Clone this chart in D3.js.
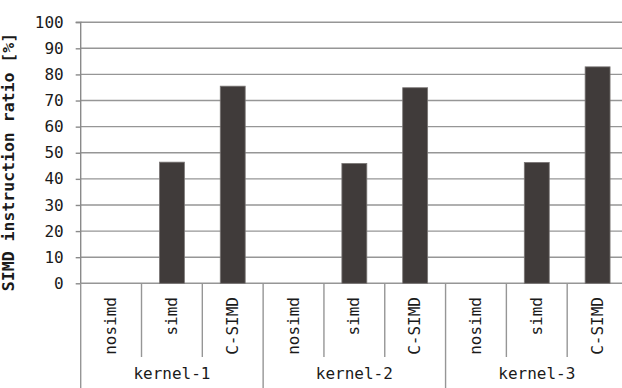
<!DOCTYPE html>
<html><head><meta charset="utf-8">
<script src="https://cdn.jsdelivr.net/npm/d3@7"></script>
<style>
html,body{margin:0;padding:0;background:#fff;}
svg{display:block;}
text{font-family:"DejaVu Sans Mono","Liberation Mono",monospace;fill:#1a1a1a;}
</style></head>
<body>
<svg id="chart" width="622" height="388"></svg>
<script>
const groups = ["kernel-1", "kernel-2", "kernel-3"];
const variants = ["nosimd", "simd", "C-SIMD"];
const values = [
  [0, 46.4, 75.5],
  [0, 45.9, 74.9],
  [0, 46.3, 82.9]
];
const yTicks = [0, 10, 20, 30, 40, 50, 60, 70, 80, 90, 100];
const yLabel = "SIMD instruction ratio [%]";

const svg = d3.select("#chart");
const mLeft = 80.7, mRight = 628, mTop = 22.2, mBottom = 283.3;

const keys = [];
groups.forEach(g => variants.forEach(v => keys.push(g + "|" + v)));
const data = [];
groups.forEach((g, gi) => variants.forEach((v, vi) => data.push({g, v, key: g + "|" + v, value: values[gi][vi]})));

const x = d3.scaleBand().domain(keys).range([mLeft, mRight]).padding(0);
const y = d3.scaleLinear().domain([0, 100]).range([mBottom, mTop]);
const bw = x.bandwidth();
const barW = bw * 0.41;

// gridlines
svg.append("g").selectAll("line").data(yTicks).join("line")
  .attr("x1", mLeft).attr("x2", mRight)
  .attr("y1", d => y(d)).attr("y2", d => y(d))
  .attr("stroke", "#969696").attr("stroke-width", 1.4);

// bars
svg.append("g").selectAll("rect").data(data.filter(d => d.value > 0)).join("rect")
  .attr("x", d => x(d.key) + (bw - barW) / 2)
  .attr("width", barW)
  .attr("y", d => y(d.value))
  .attr("height", d => y(0) - y(d.value))
  .attr("fill", "#403b3a")
  .attr("stroke", "#7a7675").attr("stroke-width", 0.8);

// y axis
const yAxis = d3.axisLeft(y).tickValues(yTicks).tickSize(5).tickPadding(12).tickFormat(d3.format("d"));
const ya = svg.append("g").attr("transform", `translate(${mLeft},0)`).call(yAxis);
ya.select(".domain").attr("stroke", "#8a8a8a").attr("stroke-width", 1.4).attr("d", `M-5,${mTop}H0V${mBottom}`);
ya.selectAll(".tick line").attr("stroke", "#8a8a8a").attr("stroke-width", 1.4);
ya.selectAll(".tick text").attr("font-size", 16).attr("fill", "#1a1a1a")
  .style("font-family", '"DejaVu Sans Mono",monospace');

// y label
svg.append("text")
  .attr("transform", `translate(8,162) rotate(-90)`)
  .attr("text-anchor", "middle").attr("dy", "0.35em")
  .attr("font-size", 16.5).attr("font-weight", "bold")
  .text(yLabel);

// category separators
const sep = svg.append("g").attr("stroke", "#969696").attr("stroke-width", 1.4);
keys.forEach((k, i) => {
  const isGroupStart = i % variants.length === 0;
  const xx = x(k);
  sep.append("line").attr("x1", xx).attr("x2", xx)
    .attr("y1", mBottom).attr("y2", isGroupStart ? 388 : 357);
});

// variant labels
svg.append("g").selectAll("text").data(data).join("text")
  .attr("transform", d => `translate(${x(d.key) + bw / 2},297) rotate(-90)`)
  .attr("text-anchor", "end").attr("dy", "0.32em")
  .attr("font-size", 16)
  .text(d => d.v);

// group labels
const gx = d3.scaleBand().domain(groups).range([mLeft, mRight]);
svg.append("g").selectAll("text").data(groups).join("text")
  .attr("x", d => gx(d) + gx.bandwidth() / 2)
  .attr("y", 379)
  .attr("text-anchor", "middle")
  .attr("font-size", 16)
  .text(d => d);
</script>
</body></html>
